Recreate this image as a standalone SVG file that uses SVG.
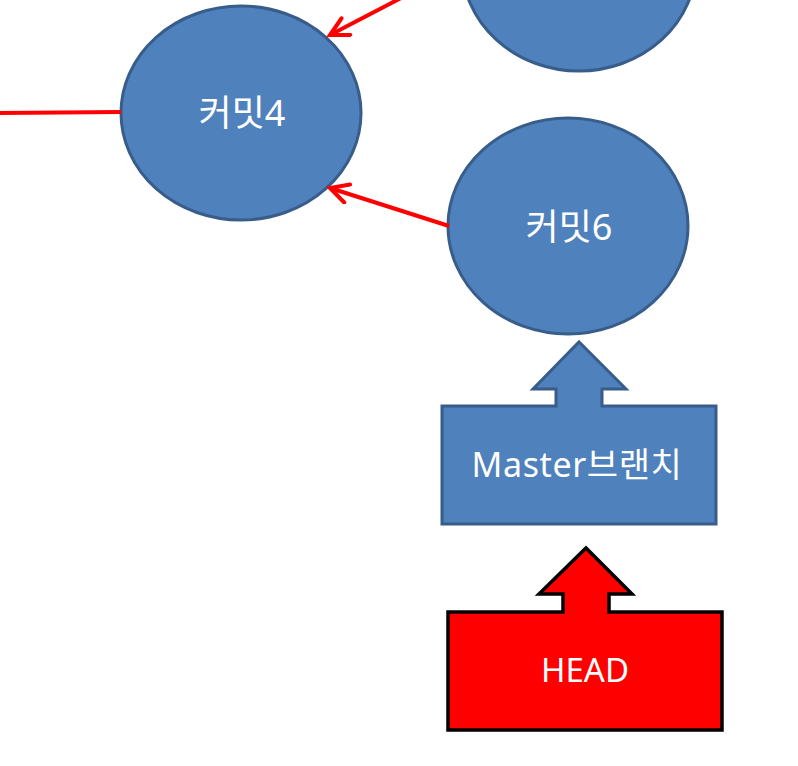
<svg xmlns="http://www.w3.org/2000/svg" width="798" height="766" viewBox="0 0 798 766">
<style>
.node{fill:#4F81BD;stroke:#385D8A;stroke-width:3}
.head{fill:#FF0000;stroke:#000000;stroke-width:3.5;stroke-linejoin:miter}
.edge{stroke:#FF0000;stroke-width:4;fill:none}
.lbl{font-family:"Noto Sans","Noto Sans CJK KR",sans-serif;fill:#FFFFFF;text-anchor:middle}
.big{font-size:36px}
.mid{font-size:33px}
</style>
<defs>
<marker id="arr" markerUnits="userSpaceOnUse" markerWidth="30" markerHeight="30" refX="21" refY="11" orient="auto">
<path d="M3,1.5 L21,11 L3,20.5" fill="none" stroke="#FF0000" stroke-width="4" stroke-linecap="round" stroke-linejoin="miter"/>
</marker>
</defs>
<rect width="798" height="766" fill="#FFFFFF"/>
<g id="commit5">
<ellipse class="node" cx="579" cy="-36" rx="117" ry="107"/>
</g>
<g id="commit4">
<ellipse class="node" cx="241" cy="113" rx="120" ry="107"/>
<text class="lbl big" x="242" y="126">커밋4</text>
</g>
<g id="commit6">
<ellipse class="node" cx="568" cy="226" rx="120" ry="108"/>
<text class="lbl big" x="569" y="240">커밋6</text>
</g>
<g id="master">
<path class="node" d="M442,406 L556,406 L556,389 L533,389 L579,342 L626,389 L602,389 L602,406 L716,406 L716,524 L442,524 Z"/>
<text class="lbl mid" x="577" y="477" style="font-size:34px;letter-spacing:0.6px">Master브랜치</text>
</g>
<g id="head">
<path class="head" d="M448,612 L563,612 L563,594 L539,594 L586,548 L632,594 L609,594 L609,612 L722,612 L722,730 L448,730 Z"/>
<text class="lbl mid" x="585" y="682">HEAD</text>
</g>
<g id="connectors">
<line class="edge" x1="0" y1="113" x2="121" y2="112"/>
<line class="edge" x1="401" y1="-2" x2="330" y2="35" marker-end="url(#arr)"/>
<line class="edge" x1="449" y1="226" x2="330" y2="188" marker-end="url(#arr)"/>
</g>
</svg>
